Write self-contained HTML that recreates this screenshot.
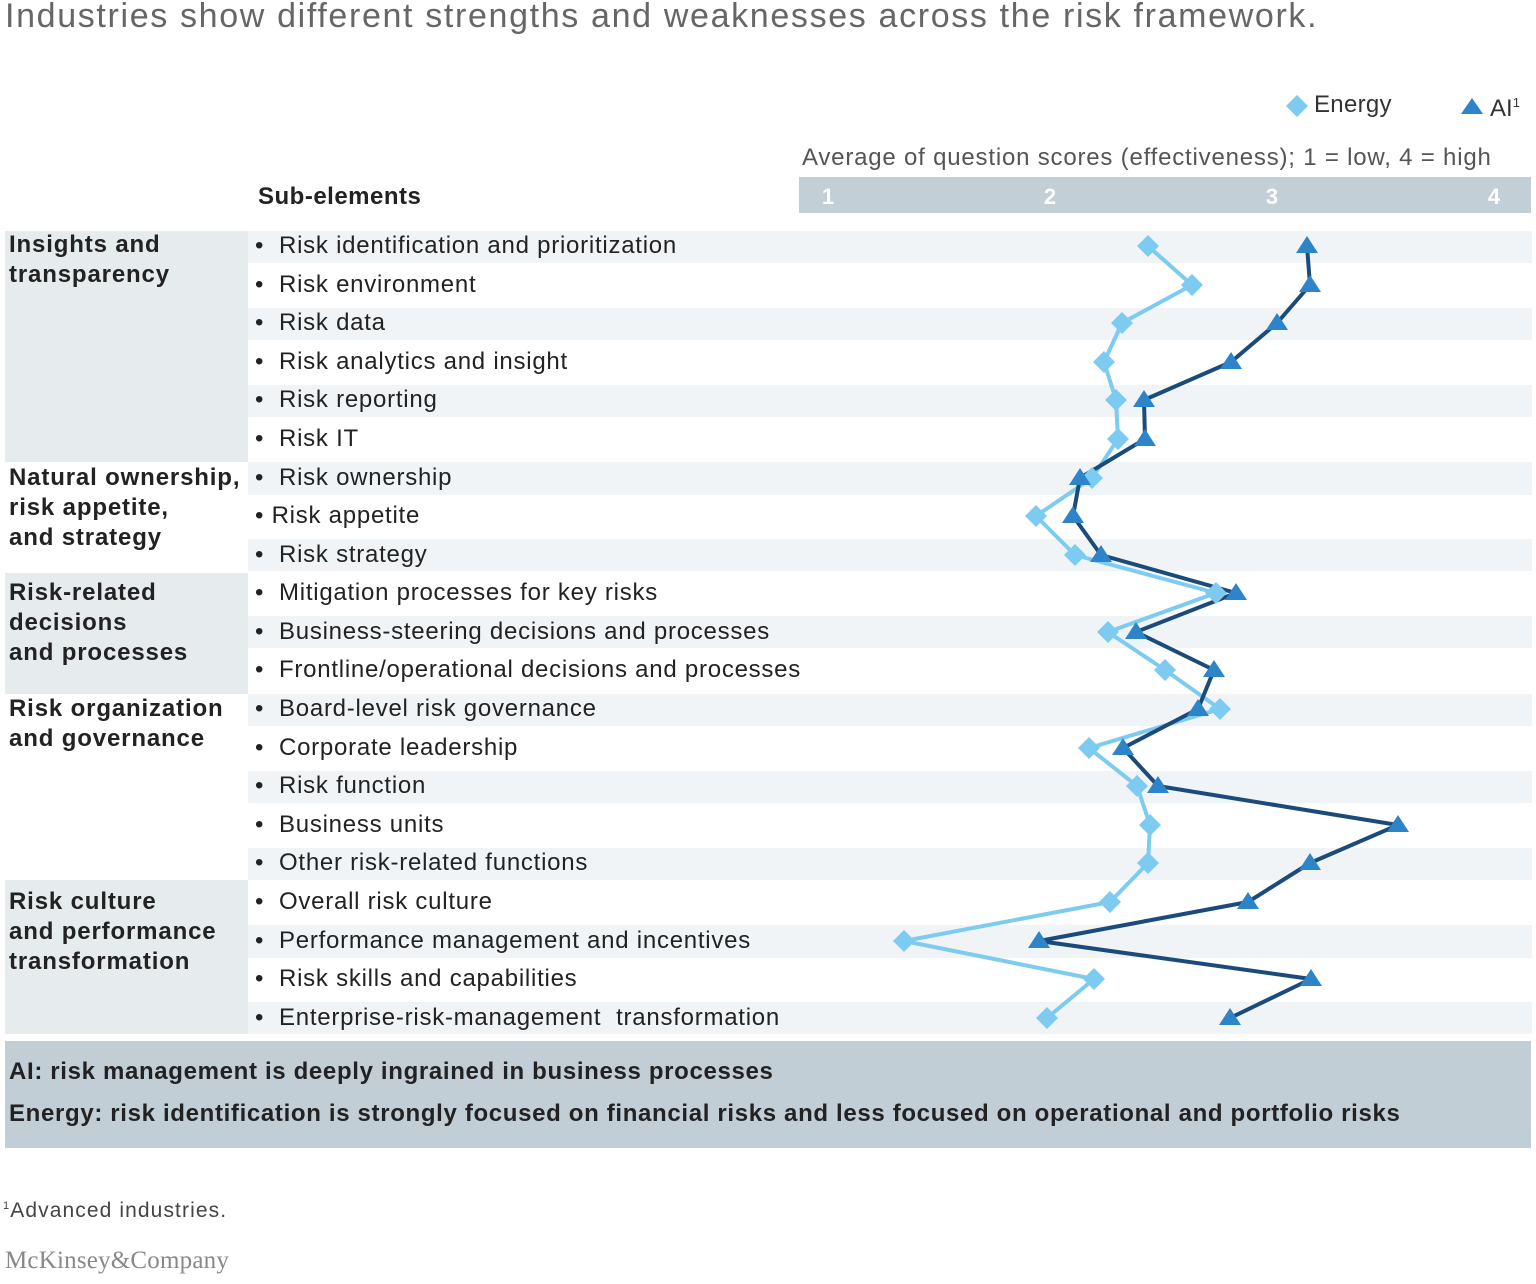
<!DOCTYPE html>
<html><head><style>
body{margin:0;width:1536px;height:1284px;background:#fff;font-family:"Liberation Sans",sans-serif;color:#222;position:relative;overflow:hidden}
.a{position:absolute;white-space:nowrap}
.sub{position:absolute;left:255px;font-size:24px;color:#222;line-height:24px;letter-spacing:0.75px;white-space:nowrap}
.cat{position:absolute;left:9px;font-size:24px;font-weight:bold;line-height:30px;color:#222;letter-spacing:0.85px}
</style></head><body>
<div class="a" style="left:5px;top:-3px;font-size:34px;color:#666;letter-spacing:1.65px">Industries show different strengths and weaknesses across the risk framework.</div>

<svg class="a" style="left:0;top:0" width="1536" height="1284">
<g fill="#f1f4f6">
<rect x="248" y="231" width="1284" height="32"/><rect x="248" y="308" width="1284" height="32"/><rect x="248" y="385" width="1284" height="32"/><rect x="248" y="462" width="1284" height="33"/><rect x="248" y="539" width="1284" height="32"/><rect x="248" y="616" width="1284" height="32"/><rect x="248" y="694" width="1284" height="32"/><rect x="248" y="771" width="1284" height="32"/><rect x="248" y="848" width="1284" height="32"/><rect x="248" y="925" width="1284" height="33"/><rect x="248" y="1002" width="1284" height="32"/>
</g>
<g fill="#e6ebee">
<rect x="5" y="231" width="243" height="231"/><rect x="5" y="573" width="243" height="121"/><rect x="5" y="880" width="243" height="154"/>
</g>
<rect x="799" y="177" width="732" height="36" fill="#c3cfd6"/>
<rect x="5" y="1041" width="1526" height="107" fill="#c2ced5"/>
<g font-family="Liberation Sans" font-weight="bold" font-size="22" fill="#fff" text-anchor="middle">
<text x="828" y="204">1</text><text x="1050" y="204">2</text><text x="1272" y="204">3</text><text x="1494" y="204">4</text></g>
<polyline fill="none" stroke="#7dcbf0" stroke-width="4" stroke-linejoin="round" points="1148,246 1192,285 1122,323 1104,362 1116,400 1118,439 1092,478 1036,516 1075,555 1216,593 1108,632 1165,670 1220,709 1089,748 1137,786 1150,825 1148,863 1110,902 904,941 1094,979 1047,1018"/>
<polyline fill="none" stroke="#1b4b7a" stroke-width="4" stroke-linejoin="round" points="1307,246 1310,285 1277,323 1231,362 1144,400 1145,439 1080,478 1073,516 1101,555 1236,593 1136,632 1214,670 1198,709 1123,748 1158,786 1398,825 1310,863 1248,902 1039,941 1311,979 1230,1018"/>
<g fill="#7dcbf0" id="d"></g>
<g id="t" fill="#2e84c8"></g>
<path d="M1297,95 l11,11 l-11,11 l-11,-11z" fill="#7dcbf0"/>
<path d="M1472,98 l11,16 l-22,0z" fill="#2e84c8"/>
</svg>
<script>
var E=[[1148,246],[1192,285],[1122,323],[1104,362],[1116,400],[1118,439],[1092,478],[1036,516],[1075,555],[1216,593],[1108,632],[1165,670],[1220,709],[1089,748],[1137,786],[1150,825],[1148,863],[1110,902],[904,941],[1094,979],[1047,1018]];
var A=[[1307,246],[1310,285],[1277,323],[1231,362],[1144,400],[1145,439],[1080,478],[1073,516],[1101,555],[1236,593],[1136,632],[1214,670],[1198,709],[1123,748],[1158,786],[1398,825],[1310,863],[1248,902],[1039,941],[1311,979],[1230,1018]];
var s='';E.forEach(function(p){s+='<path d="M'+p[0]+','+(p[1]-11)+' l11,11 l-11,11 l-11,-11z"/>';});
document.getElementById('d').innerHTML=s;
s='';A.forEach(function(p){s+='<path d="M'+p[0]+','+(p[1]-10)+' l11,17 l-22,0z"/>';});
document.getElementById('t').innerHTML=s;
</script>
<div class="a" style="left:1314px;top:91px;font-size:24px;color:#333;letter-spacing:0.3px">Energy</div>
<div class="a" style="left:1490px;top:95px;font-size:24px;color:#333">AI<sup style="font-size:13px">1</sup></div>
<div class="a" style="left:802px;top:144px;font-size:24px;color:#555;letter-spacing:0.8px">Average of question scores (effectiveness); 1 = low, 4 = high</div>
<div class="a" style="left:258px;top:183px;font-size:24px;font-weight:bold;color:#222;letter-spacing:0.5px">Sub-elements</div>

<div class="cat" style="top:230px">Insights and<br>transparency</div>
<div class="cat" style="top:463px">Natural ownership,<br>risk appetite,<br>and strategy</div>
<div class="cat" style="top:578px">Risk-related<br>decisions<br>and processes</div>
<div class="cat" style="top:694px">Risk organization<br>and governance</div>
<div class="cat" style="top:887px">Risk culture<br>and performance<br>transformation</div>

<div class="sub" style="top:234px">•&nbsp; Risk identification and prioritization</div>
<div class="sub" style="top:273px">•&nbsp; Risk environment</div>
<div class="sub" style="top:311px">•&nbsp; Risk data</div>
<div class="sub" style="top:350px">•&nbsp; Risk analytics and insight</div>
<div class="sub" style="top:388px">•&nbsp; Risk reporting</div>
<div class="sub" style="top:427px">•&nbsp; Risk IT</div>
<div class="sub" style="top:466px">•&nbsp; Risk ownership</div>
<div class="sub" style="top:504px">• Risk appetite</div>
<div class="sub" style="top:543px">•&nbsp; Risk strategy</div>
<div class="sub" style="top:581px">•&nbsp; Mitigation processes for key risks</div>
<div class="sub" style="top:620px">•&nbsp; Business-steering decisions and processes</div>
<div class="sub" style="top:658px">•&nbsp; Frontline/operational decisions and processes</div>
<div class="sub" style="top:697px">•&nbsp; Board-level risk governance</div>
<div class="sub" style="top:736px">•&nbsp; Corporate leadership</div>
<div class="sub" style="top:774px">•&nbsp; Risk function</div>
<div class="sub" style="top:813px">•&nbsp; Business units</div>
<div class="sub" style="top:851px">•&nbsp; Other risk-related functions</div>
<div class="sub" style="top:890px">•&nbsp; Overall risk culture</div>
<div class="sub" style="top:929px">•&nbsp; Performance management and incentives</div>
<div class="sub" style="top:967px">•&nbsp; Risk skills and capabilities</div>
<div class="sub" style="top:1006px">•&nbsp; Enterprise-risk-management&nbsp; transformation</div>

<div class="a" style="left:9px;top:1058px;font-size:24px;font-weight:bold;color:#222;letter-spacing:0.66px">AI: risk management is deeply ingrained in business processes</div>
<div class="a" style="left:9px;top:1100px;font-size:24px;font-weight:bold;color:#222;letter-spacing:0.66px">Energy: risk identification is strongly focused on financial risks and less focused on operational and portfolio risks</div>
<div class="a" style="left:3px;top:1199px;font-size:21px;color:#444;letter-spacing:1.1px"><sup style="font-size:11px">1</sup>Advanced industries.</div>
<div class="a" style="left:5px;top:1247px;font-size:25px;font-family:'Liberation Serif',serif;color:#888;letter-spacing:0.2px">McKinsey&amp;Company</div>
</body></html>
